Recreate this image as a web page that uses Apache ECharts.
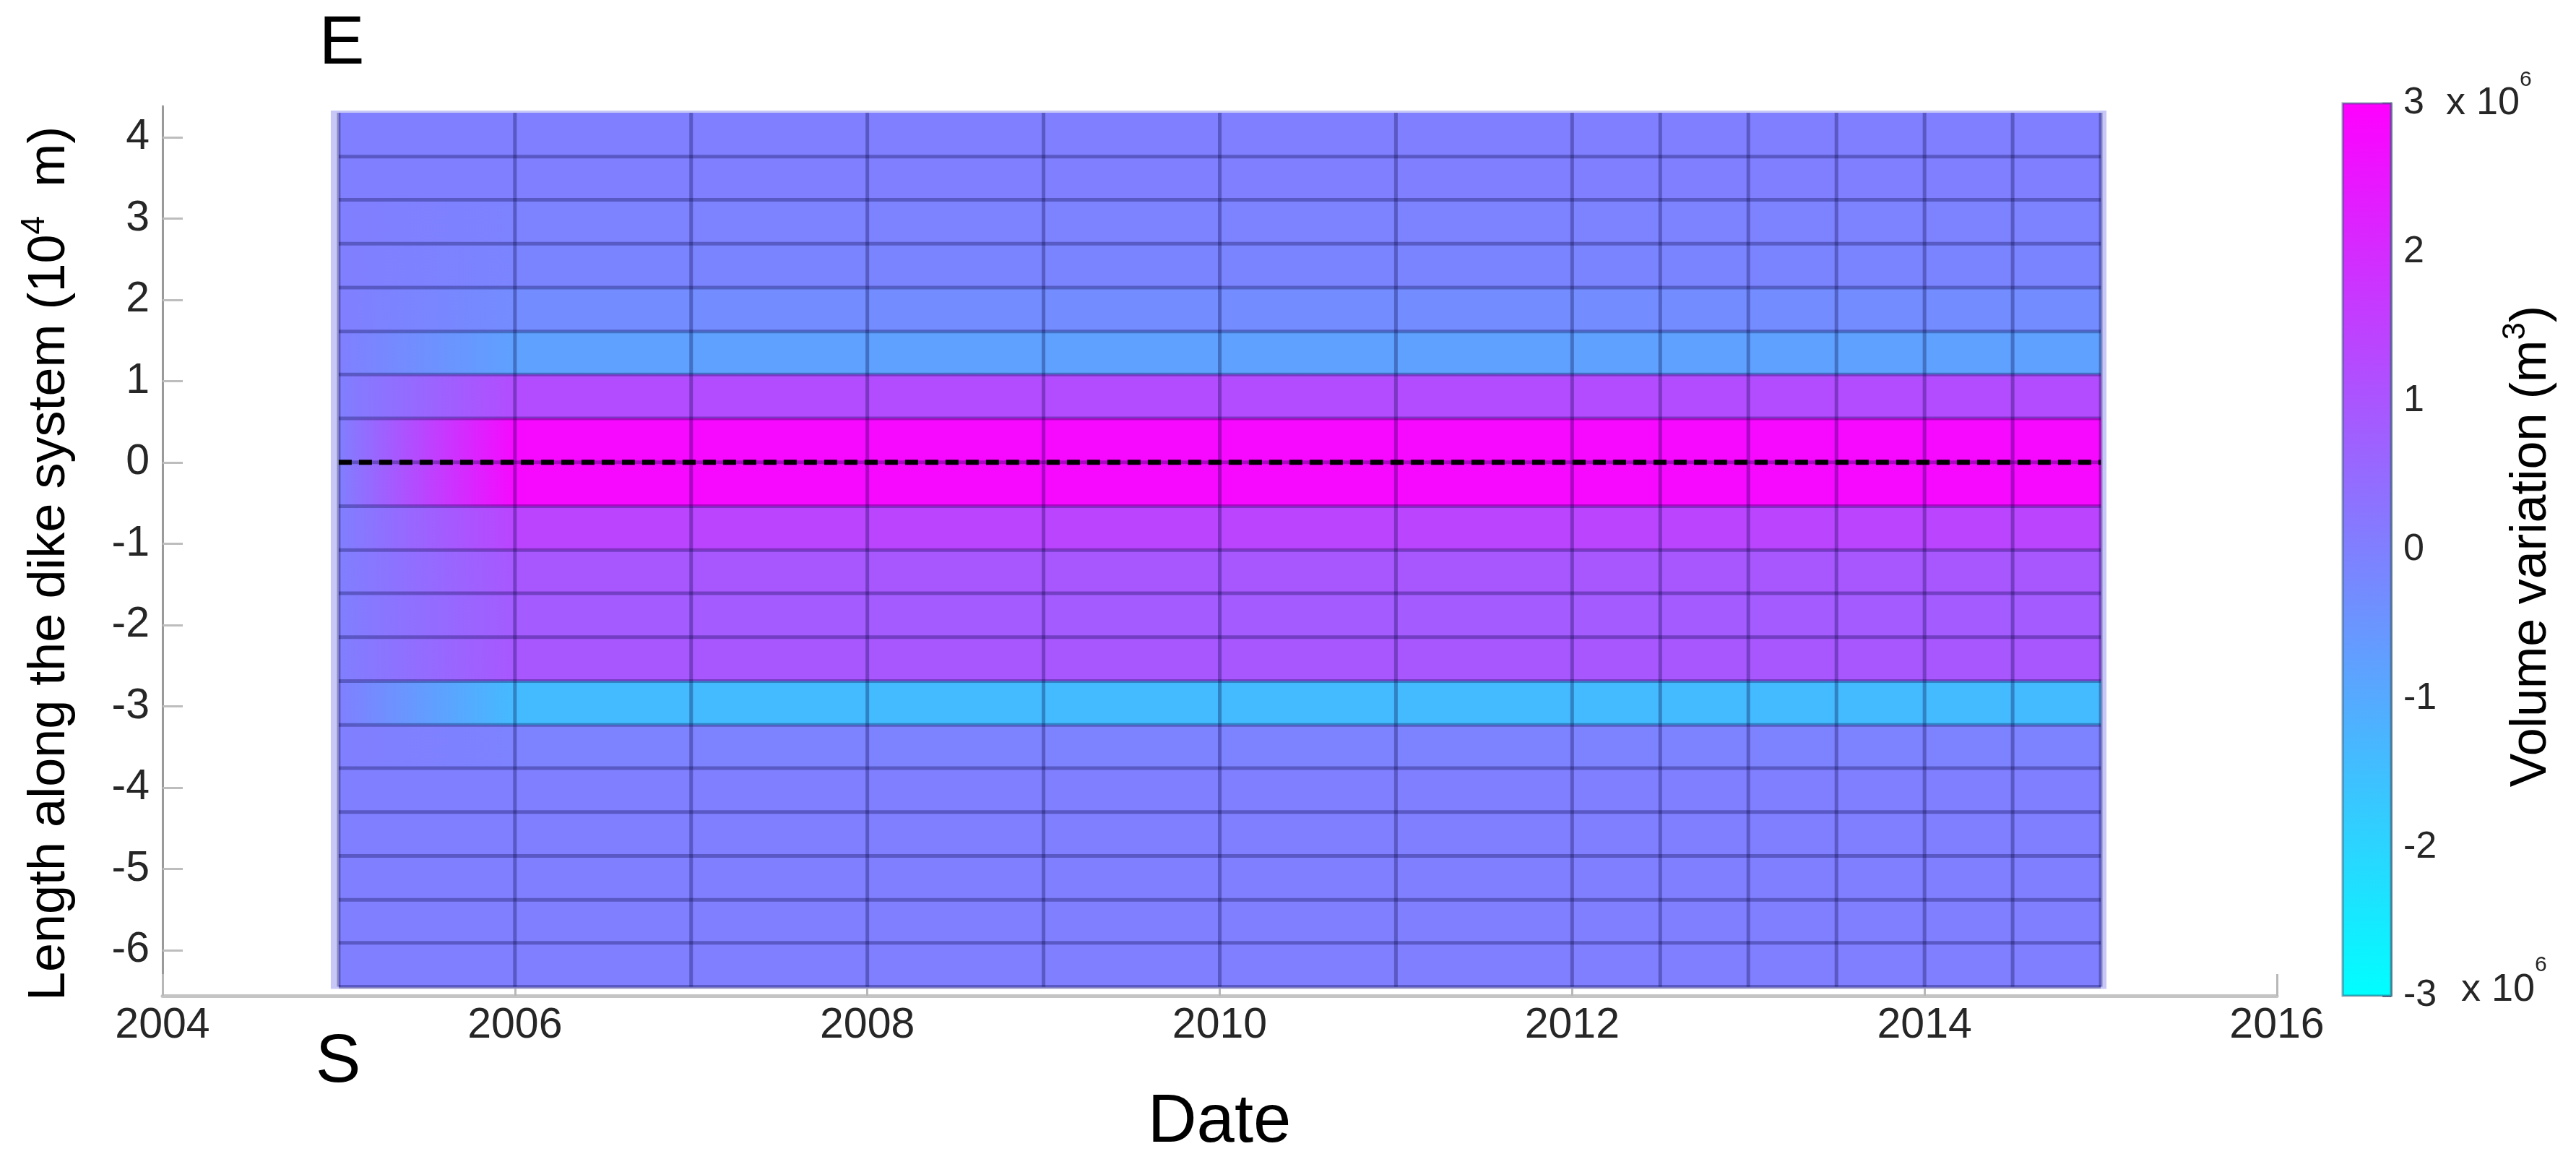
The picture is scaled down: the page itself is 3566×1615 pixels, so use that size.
<!DOCTYPE html>
<html>
<head>
<meta charset="utf-8">
<title>Volume variation along the dike system</title>
<script src="https://cdn.jsdelivr.net/npm/echarts@6.0.0/dist/echarts.min.js"></script>
<style>
  html, body { margin: 0; padding: 0; background: #ffffff; }
  #chart { width: 3566px; height: 1615px; }
</style>
</head>
<body>
<div id="chart"></div>
<script>
var FONT = '"Liberation Sans", Arial, sans-serif';

// dates of the model steps (vertices of the surface)
var dates = [2005, 2006, 2007, 2008, 2009, 2010, 2011, 2012, 2012.5, 2013, 2013.5, 2014, 2014.5, 2015];

// patch edges along the dike (10^4 m), from the E end down to the S end
var patchEdges = [4.3, 3.76, 3.23, 2.69, 2.15, 1.61, 1.08, 0.54, 0, -0.54, -1.08,
                  -1.61, -2.15, -2.69, -3.23, -3.76, -4.3, -4.84, -5.38, -5.91, -6.45];

// volume variation of each patch at each date (10^6 m^3), one row per patch
var volume = [
  [0, 0, 0, 0, 0, 0, 0, 0, 0, 0, 0, 0, 0, 0],
  [0, 0, 0, 0, 0, 0, 0, 0, 0, 0, 0, 0, 0, 0],
  [0, -0.05, -0.05, -0.05, -0.05, -0.05, -0.05, -0.05, -0.05, -0.05, -0.05, -0.05, -0.05, -0.05],
  [0, -0.1, -0.1, -0.1, -0.1, -0.1, -0.1, -0.1, -0.1, -0.1, -0.1, -0.1, -0.1, -0.1],
  [0, -0.3, -0.3, -0.3, -0.3, -0.3, -0.3, -0.3, -0.3, -0.3, -0.3, -0.3, -0.3, -0.3],
  [0, -0.8, -0.8, -0.8, -0.8, -0.8, -0.8, -0.8, -0.8, -0.8, -0.8, -0.8, -0.8, -0.8],
  [0, 1.2, 1.2, 1.2, 1.2, 1.2, 1.2, 1.2, 1.2, 1.2, 1.2, 1.2, 1.2, 1.2],
  [0, 2.8, 2.8, 2.8, 2.8, 2.8, 2.8, 2.8, 2.8, 2.8, 2.8, 2.8, 2.8, 2.8],
  [0, 2.8, 2.8, 2.8, 2.8, 2.8, 2.8, 2.8, 2.8, 2.8, 2.8, 2.8, 2.8, 2.8],
  [0, 1.4, 1.4, 1.4, 1.4, 1.4, 1.4, 1.4, 1.4, 1.4, 1.4, 1.4, 1.4, 1.4],
  [0, 0.95, 0.95, 0.95, 0.95, 0.95, 0.95, 0.95, 0.95, 0.95, 0.95, 0.95, 0.95, 0.95],
  [0, 0.85, 0.85, 0.85, 0.85, 0.85, 0.85, 0.85, 0.85, 0.85, 0.85, 0.85, 0.85, 0.85],
  [0, 0.95, 0.95, 0.95, 0.95, 0.95, 0.95, 0.95, 0.95, 0.95, 0.95, 0.95, 0.95, 0.95],
  [0, -1.4, -1.4, -1.4, -1.4, -1.4, -1.4, -1.4, -1.4, -1.4, -1.4, -1.4, -1.4, -1.4],
  [0, -0.05, -0.05, -0.05, -0.05, -0.05, -0.05, -0.05, -0.05, -0.05, -0.05, -0.05, -0.05, -0.05],
  [0, 0, 0, 0, 0, 0, 0, 0, 0, 0, 0, 0, 0, 0],
  [0, 0, 0, 0, 0, 0, 0, 0, 0, 0, 0, 0, 0, 0],
  [0, 0, 0, 0, 0, 0, 0, 0, 0, 0, 0, 0, 0, 0],
  [0, 0, 0, 0, 0, 0, 0, 0, 0, 0, 0, 0, 0, 0],
  [0, 0, 0, 0, 0, 0, 0, 0, 0, 0, 0, 0, 0, 0]
];

var xTicks = [2004, 2006, 2008, 2010, 2012, 2014, 2016];
var yTicks = [-6, -5, -4, -3, -2, -1, 0, 1, 2, 3, 4];
var cbRange = [-3, 3];

// matlab "cool" colormap over [-3, 3]
function cool(v) {
    var f = (v - cbRange[0]) / (cbRange[1] - cbRange[0]);
    f = Math.max(0, Math.min(1, f));
    var r = Math.round(255 * f);
    return 'rgb(' + r + ',' + (255 - r) + ',255)';
}

var cells = [];
for (var r = 0; r < volume.length; r++) {
    for (var c = 0; c < dates.length - 1; c++) {
        cells.push([dates[c], dates[c + 1], patchEdges[r], patchEdges[r + 1], volume[r][c], volume[r][c + 1]]);
    }
}
var tFirst = dates[0], tLast = dates[dates.length - 1];
var yTop = patchEdges[0], yBottom = patchEdges[patchEdges.length - 1];
var hLines = patchEdges.slice(1).map(function (e) { return [tFirst, tLast, e]; });
var vLines = dates.map(function (d) { return [d, yTop, yBottom]; });

var gridLine = 'rgba(0,0,60,0.3)';

// text with a raised exponent, laid out piece by piece
var measureCtx = document.createElement('canvas').getContext('2d');
function textWidth(s, size) {
    measureCtx.font = size + 'px ' + FONT;
    return measureCtx.measureText(s).width;
}
function supText(parts, x, y, rotation, centered) {
    var total = 0;
    parts.forEach(function (p) { total += textWidth(p.text, p.size); });
    var pos = centered ? -total / 2 : 0;
    var kids = [];
    parts.forEach(function (p) {
        kids.push({
            type: 'text', x: pos, y: p.dy || 0,
            style: { text: p.text, fontSize: p.size, fontFamily: FONT, fill: p.color || '#000',
                     textAlign: 'left', textVerticalAlign: 'middle' }
        });
        pos += textWidth(p.text, p.size);
    });
    return { type: 'group', x: x, y: y, rotation: rotation || 0, children: kids };
}

var chart = echarts.init(document.getElementById('chart'));

var option = {
    backgroundColor: '#ffffff',
    animation: false,
    grid: [
        { left: 225, right: 414, top: 147, bottom: 237 },
        { left: 3243, width: 67, top: 143, height: 1235 }
    ],
    xAxis: [{
        type: 'value', gridIndex: 0, min: 2004, max: 2016,
        axisLine: { onZero: false, lineStyle: { color: '#c4c4c4', width: 5 } },
        axisTick: { inside: true, length: 30, customValues: xTicks, lineStyle: { color: '#b8b8b8', width: 3 } },
        axisLabel: {
            customValues: xTicks, margin: 12, fontSize: 59, color: '#262626', fontFamily: FONT,
            formatter: function (v) { return String(v); }
        },
        splitLine: { show: false }
    }, {
        type: 'value', gridIndex: 1, min: 0, max: 1, show: false
    }],
    yAxis: [{
        type: 'value', gridIndex: 0, min: -6.56, max: 4.38,
        axisLine: { show: true, onZero: false, lineStyle: { color: '#9a9a9a', width: 3 } },
        axisTick: { show: true, inside: true, length: 28, customValues: yTicks, lineStyle: { color: '#bdbdbd', width: 3 } },
        axisLabel: { customValues: yTicks, margin: 18, fontSize: 59, color: '#262626', fontFamily: FONT },
        splitLine: { show: false }
    }, {
        type: 'value', gridIndex: 1, position: 'right', min: cbRange[0], max: cbRange[1], interval: 1,
        axisLine: { show: true, onZero: false, lineStyle: { color: 'rgba(40,80,110,0.55)', width: 3 } },
        axisTick: { show: true, inside: true, length: 12, lineStyle: { color: 'rgba(20,30,80,0.6)', width: 3 } },
        axisLabel: { margin: 17, fontSize: 52, color: '#262626', fontFamily: FONT },
        splitLine: { show: false }
    }],
    series: [{
        // pale halo round the surface
        type: 'custom', xAxisIndex: 0, yAxisIndex: 0, z: 1,
        data: [[tFirst, tLast, yTop, yBottom]],
        encode: { x: [0, 1], y: [2, 3] },
        renderItem: function (params, api) {
            var p0 = api.coord([api.value(0), api.value(2)]);
            var p1 = api.coord([api.value(1), api.value(3)]);
            return { type: 'rect', shape: { x: p0[0] - 11, y: p0[1] - 3, width: p1[0] - p0[0] + 19, height: p1[1] - p0[1] + 6 },
                     style: { fill: '#c8c8f8' } };
        }
    }, {
        // surface, colour interpolated along time
        type: 'custom', xAxisIndex: 0, yAxisIndex: 0, z: 2,
        data: cells,
        encode: { x: [0, 1], y: [2, 3] },
        renderItem: function (params, api) {
            var p0 = api.coord([api.value(0), api.value(2)]);
            var p1 = api.coord([api.value(1), api.value(3)]);
            return {
                type: 'rect',
                shape: { x: p0[0], y: p0[1], width: p1[0] - p0[0] + 0.6, height: p1[1] - p0[1] + 0.6 },
                style: { fill: new echarts.graphic.LinearGradient(0, 0, 1, 0, [
                    { offset: 0, color: cool(api.value(4)) },
                    { offset: 1, color: cool(api.value(5)) }
                ]) }
            };
        }
    }, {
        type: 'custom', xAxisIndex: 0, yAxisIndex: 0, z: 3,
        data: hLines,
        encode: { x: [0, 1], y: 2 },
        renderItem: function (params, api) {
            var a = api.coord([api.value(0), api.value(2)]);
            var b = api.coord([api.value(1), api.value(2)]);
            return { type: 'line', shape: { x1: a[0], y1: a[1], x2: b[0], y2: b[1] },
                     style: { stroke: gridLine, lineWidth: 5 } };
        }
    }, {
        type: 'custom', xAxisIndex: 0, yAxisIndex: 0, z: 3,
        data: vLines,
        encode: { x: 0, y: [1, 2] },
        renderItem: function (params, api) {
            var a = api.coord([api.value(0), api.value(1)]);
            var b = api.coord([api.value(0), api.value(2)]);
            return { type: 'line', shape: { x1: a[0], y1: a[1], x2: b[0], y2: b[1] },
                     style: { stroke: gridLine, lineWidth: 5 } };
        }
    }, {
        type: 'line', xAxisIndex: 0, yAxisIndex: 0, z: 4,
        data: [[tFirst, 0], [tLast, 0]],
        showSymbol: false, silent: true,
        lineStyle: { color: '#000000', width: 7, type: [18, 10] }
    }, {
        // colour bar
        type: 'custom', xAxisIndex: 1, yAxisIndex: 1, z: 2,
        data: [[0, 1, cbRange[1], cbRange[0]]],
        encode: { x: [0, 1], y: [2, 3] },
        renderItem: function (params, api) {
            var p0 = api.coord([api.value(0), api.value(2)]);
            var p1 = api.coord([api.value(1), api.value(3)]);
            return {
                type: 'rect',
                shape: { x: p0[0], y: p0[1], width: p1[0] - p0[0], height: p1[1] - p0[1] },
                style: {
                    fill: new echarts.graphic.LinearGradient(0, 0, 0, 1, [
                        { offset: 0, color: cool(api.value(2)) },
                        { offset: 1, color: cool(api.value(3)) }
                    ]),
                    stroke: 'rgba(40,80,110,0.5)', lineWidth: 3
                }
            };
        }
    }],
    graphic: [
        { type: 'text', x: 473, y: 62, style: { text: 'E', fontSize: 94, fontFamily: FONT, fill: '#000', textAlign: 'center', textVerticalAlign: 'middle' } },
        { type: 'text', x: 468, y: 1471, style: { text: 'S', fontSize: 94, fontFamily: FONT, fill: '#000', textAlign: 'center', textVerticalAlign: 'middle' } },
        { type: 'text', x: 1688, y: 1554, style: { text: 'Date', fontSize: 94, fontFamily: FONT, fill: '#000', textAlign: 'center', textVerticalAlign: 'middle' } },
        supText([
            { text: 'Length along the dike system (10', size: 72 },
            { text: '4', size: 46, dy: -21 },
            { text: '  m)', size: 72 }
        ], 69, 780, Math.PI / 2, true),
        supText([
            { text: 'Volume variation (m', size: 70 },
            { text: '3', size: 44, dy: -22 },
            { text: ')', size: 70 }
        ], 3505, 756, Math.PI / 2, true),
        supText([
            { text: 'x 10', size: 54, color: '#262626' },
            { text: '6', size: 30, dy: -32, color: '#262626' }
        ], 3386, 143, 0, false),
        supText([
            { text: 'x 10', size: 54, color: '#262626' },
            { text: '6', size: 30, dy: -34, color: '#262626' }
        ], 3407, 1370, 0, false)
    ]
};

chart.setOption(option);
window.addEventListener('resize', function () {
    chart.resize();
});
</script>
</body>
</html>
